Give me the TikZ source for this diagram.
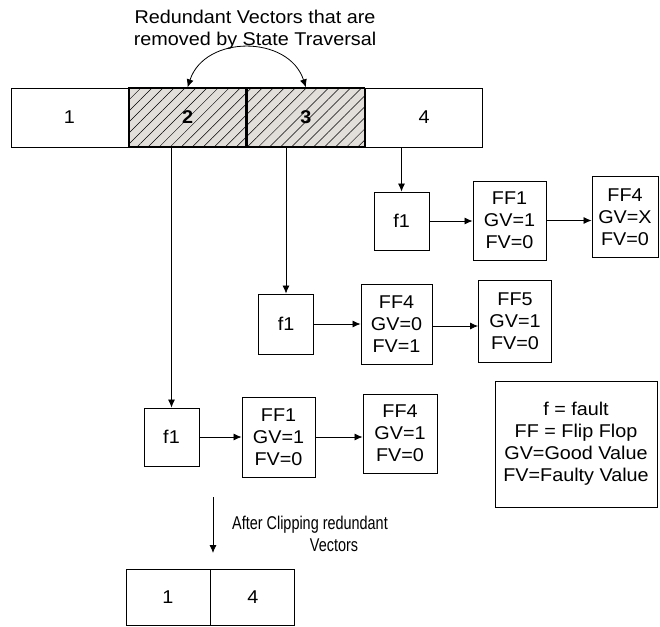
\documentclass[tikz,border=0pt]{standalone}
\usepackage{fontspec}
\setmainfont{Liberation Sans}[FakeStretch=1.07]
\newfontfamily\condfont{Liberation Sans}[FakeStretch=0.78]
\usepackage{tikz}
\usetikzlibrary{arrows.meta,positioning,patterns.meta,calc}
\definecolor{hatchgray}{RGB}{226,222,218}

\begin{document}
\begin{tikzpicture}[x=1pt, y=-1pt,
    txt/.style={font=\fontsize{18.5}{22}\selectfont, align=center},
    cell/.style={txt, rectangle, draw, line width=0.9pt, minimum width=117pt, minimum height=59pt, inner sep=0pt},
    hatched/.style={cell, line width=1.3pt, fill=hatchgray,
      postaction={pattern={Lines[angle=45, distance=7.8pt, line width=0.5pt]}}},
    fault/.style={txt, rectangle, draw, line width=0.9pt, minimum width=55pt, minimum height=58pt, inner sep=0pt},
    ffbox/.style={txt, rectangle, draw, line width=0.9pt, minimum width=73pt, minimum height=80pt, inner sep=0pt},
    arrow/.style={-{Latex[length=8pt, width=7pt]}, line width=0.8pt},
    doublearrow/.style={{Latex[length=8pt, width=7pt]}-{Latex[length=8pt, width=7pt]}, line width=0.8pt}
  ]
    \useasboundingbox (0,0) rectangle (660,626);

    % vector list
    \node[cell] (c1) at (69.5,117.5) {1};
    \node[hatched, right=0pt of c1] (c2) {\textbf{2}};
    \node[hatched, right=0pt of c2] (c3) {\textbf{3}};
    \node[cell, right=0pt of c3] (c4) {4};

    \node[txt] (redundant) at (255,30) {Redundant Vectors that are\\removed by State Traversal};
    \draw[doublearrow] (c2.north) to[out=72, in=108, looseness=1.2] (c3.north);

    % fault list of vector 4
    \node[fault] (fa) at (401.5,221) {f1};
    \node[ffbox, minimum height=79pt] (fa1) at (509.5,220.5) {FF1\\GV=1\\FV=0};
    \node[ffbox, minimum width=66pt, minimum height=81pt] (fa2) at (625,217) {FF4\\GV=X\\FV=0};

    % fault list of vector 3
    \node[fault, minimum height=60pt] (fb) at (286,324) {f1};
    \node[ffbox, minimum width=71pt] (fb1) at (396.5,324) {FF4\\GV=0\\FV=1};
    \node[ffbox, minimum height=82pt] (fb2) at (515,321) {FF5\\GV=1\\FV=0};

    % fault list of vector 2
    \node[fault] (fc) at (171.5,437) {f1};
    \node[ffbox] (fc1) at (278.5,437) {FF1\\GV=1\\FV=0};
    \node[ffbox, minimum width=74pt, minimum height=79pt] (fc2) at (400,433.5) {FF4\\GV=1\\FV=0};

    \draw[arrow] (c4.south -| fa.north) -- (fa.north);
    \draw[arrow] (c3.south -| fb.north) -- (fb.north);
    \draw[arrow] (c2.south -| fc.north) -- (fc.north);

    \draw[arrow] (fa.east) -- (fa.east -| fa1.west);
    \draw[arrow] (fa1.east) -- (fa1.east -| fa2.west);
    \draw[arrow] (fb.east) -- (fb.east -| fb1.west);
    \draw[arrow] (fb1.east |- 0,326) -- (fb2.west |- 0,326);
    \draw[arrow] (fc.east) -- (fc.east -| fc1.west);
    \draw[arrow] (fc1.east) -- (fc1.east -| fc2.west);

    % legend
    \node[txt, rectangle, draw, line width=0.9pt, minimum width=162pt, minimum height=126pt] (legend) at (576,444)
      {f = fault\\FF = Flip Flop\\GV=Good Value\\FV=Faulty Value};

    % clipped list
    \coordinate (clipfrom) at (213,497);
    \coordinate (clipto) at (213,553);
    \draw[arrow] (clipfrom) -- (clipto);
    \node[txt, font=\condfont\fontsize{18.5}{22}\selectfont] (clipnote) at (310,534)
      {After Clipping redundant\\\hspace*{2.6em}Vectors};

    \node[cell, minimum width=84pt, minimum height=56pt] (d1) at (168,597) {1};
    \node[cell, minimum width=84pt, minimum height=56pt, right=0pt of d1] (d4) {4};
  \end{tikzpicture}
\end{document}
